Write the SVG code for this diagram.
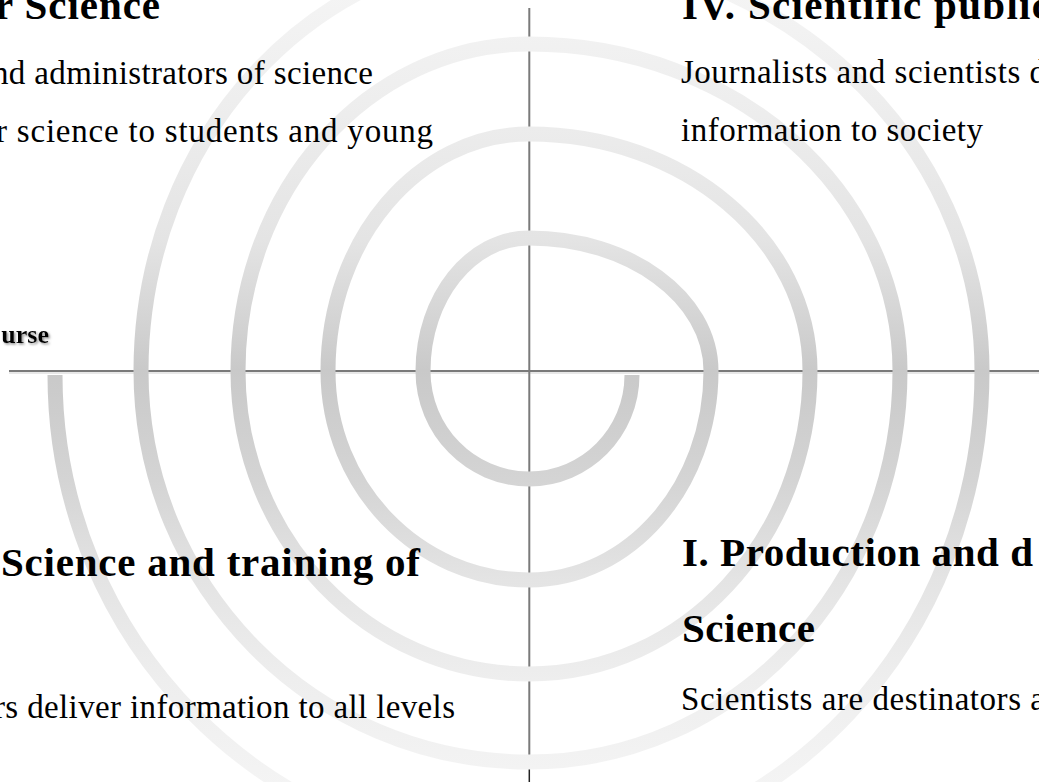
<svg xmlns="http://www.w3.org/2000/svg" width="1039" height="782" viewBox="0 0 1039 782">
  <defs>
    <linearGradient id="spiralGrad" gradientUnits="userSpaceOnUse" x1="0" y1="-60" x2="0" y2="860">
      <stop offset="0" stop-color="#f7f7f7"/>
      <stop offset="0.174" stop-color="#eeeeee"/>
      <stop offset="0.326" stop-color="#e4e4e4"/>
      <stop offset="0.391" stop-color="#d8d8d8"/>
      <stop offset="0.468" stop-color="#c9c9c9"/>
      <stop offset="0.587" stop-color="#d4d4d4"/>
      <stop offset="0.696" stop-color="#e4e4e4"/>
      <stop offset="0.804" stop-color="#eeeeee"/>
      <stop offset="1" stop-color="#f8f8f8"/>
    </linearGradient>
    <filter id="shadow" x="-10%" y="-30%" width="130%" height="170%">
      <feDropShadow dx="1.5" dy="1.5" stdDeviation="0.8" flood-color="#777" flood-opacity="0.8"/>
    </filter>
  </defs>
  <style>
    .axis { stroke: #7a7a7a; stroke-width: 2; fill: none; }
    .axisShadow { stroke: #d2d2d2; stroke-width: 1.2; fill: none; }
    .spiral { stroke: url(#spiralGrad); stroke-width: 15; fill: none; stroke-linecap: butt; }
    .head { font-family: "Liberation Serif", "DejaVu Serif", serif; font-weight: bold; font-size: 41px; fill: #000; }
    .body { font-family: "Liberation Serif", "DejaVu Serif", serif; font-size: 33px; fill: #000; }
    .small { font-family: "Liberation Serif", "DejaVu Serif", serif; font-weight: bold; font-size: 26px; fill: #000; }
  </style>
  <rect width="1039" height="782" fill="#ffffff"/>

  <g id="connectors">
    <line class="axisShadow" x1="9" y1="373" x2="1039" y2="373"/>
    <line class="axis" x1="9" y1="371" x2="1039" y2="371" stroke="#6a6a6a"/>
    <line class="axis" x1="529.3" y1="8" x2="529.3" y2="758" stroke="#858585"/>
    <line x1="529.3" y1="767" x2="529.3" y2="782" stroke="#222" stroke-width="1.5"/>
    <path id="spiral" class="spiral" d="M632,375 C632,432.4 585.9,479 529,479 C470.5,479 423,430.6 423,371 C423,297.5 470.5,238 529,238 C629.5,238 711,297.5 711,371 C711,486.4 629.5,580 529,580 C418,580 328,486.4 328,371 C328,240.1 418,134 529,134 C684.2,134 810,240.1 810,371 C810,538.3 684.2,674 529,674 C368.3,674 238,538.3 238,371 C238,190.4 368.3,44 529,44 C733.9,44 900,190.4 900,371 C900,586.9 733.9,762 529,762 C314.7,762 141,586.9 141,371 C141,138.5 314.7,-50 529,-50 C779.2,-50 982,138.5 982,371 C982,638.3 779.2,855 529,855 C267.2,855 55,640 55,375"/>
  </g>

  <g id="node-top-left">
    <text class="head" x="-5" y="19" textLength="165" lengthAdjust="spacing">r Science</text>
    <text class="body" x="-8" y="84" textLength="381" lengthAdjust="spacing">nd administrators of science</text>
    <text class="body" x="-4" y="142" textLength="437" lengthAdjust="spacing">r science to students and young</text>
  </g>

  <g id="node-left-axis">
    <text class="small" x="49" y="343" text-anchor="end" filter="url(#shadow)">urse</text>
  </g>

  <g id="node-top-right">
    <text class="head" x="682" y="19" textLength="368" lengthAdjust="spacing">IV. Scientific public</text>
    <text class="body" x="681" y="83" textLength="365" lengthAdjust="spacing">Journalists and scientists d</text>
    <text class="body" x="681" y="141" textLength="302" lengthAdjust="spacing">information to society</text>
  </g>

  <g id="node-bottom-left">
    <text class="head" x="1" y="576" textLength="419" lengthAdjust="spacing">Science and training of</text>
    <text class="body" x="-6" y="718" textLength="461" lengthAdjust="spacing">rs deliver information to all levels</text>
  </g>

  <g id="node-bottom-right">
    <text class="head" x="682" y="566" textLength="351" lengthAdjust="spacing">I. Production and d</text>
    <text class="head" x="682" y="642" textLength="133" lengthAdjust="spacing">Science</text>
    <text class="body" x="681" y="710" textLength="364" lengthAdjust="spacing">Scientists are destinators a</text>
  </g>
</svg>
